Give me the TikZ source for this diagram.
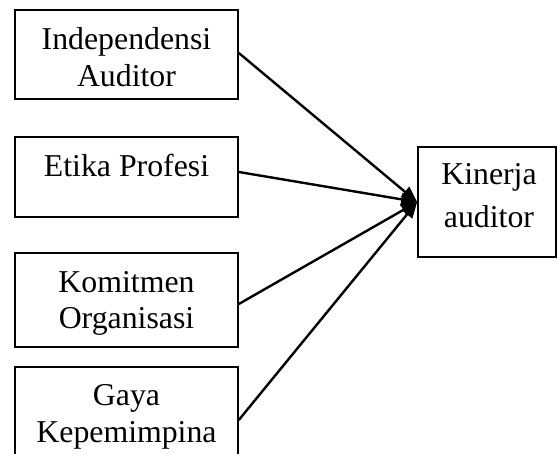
\documentclass[tikz,border=0pt]{standalone}
\usepackage{fontspec}
\setmainfont{Liberation Serif}
\usetikzlibrary{arrows.meta}
\begin{document}
\begin{tikzpicture}[x=1pt,y=-1pt,
  box/.style={draw,line width=1.6pt,inner sep=0pt},
  txt/.style={font=\fontsize{31.8}{37}\selectfont,inner sep=0pt,anchor=base},
  conn/.style={line width=2.4pt,-{Triangle[length=16pt,width=13pt]}}]
\useasboundingbox (0,0) rectangle (558,454);
\clip (0,0) rectangle (558,454);
\node[box,minimum width=223pt,minimum height=89pt] (b1) at (126.5,54.5) {};
\node[box,minimum width=223pt,minimum height=80pt] (b2) at (126.5,177) {};
\node[box,minimum width=223pt,minimum height=94pt] (b3) at (126.5,300) {};
\node[box,minimum width=223pt,minimum height=106pt] (b4) at (126.5,420) {};
\node[box,minimum width=138pt,minimum height=110pt] (kr) at (487,202) {};
\node[txt] (t1a) at (126.5,50) {Independensi};
\node[txt] (t1b) at (126.5,87) {Auditor};
\node[txt] (t2) at (126.5,177) {Etika Profesi};
\node[txt] (t3a) at (126.5,293) {Komitmen};
\node[txt] (t3b) at (126.5,329) {Organisasi};
\node[txt] (t4a) at (126.5,406) {Gaya};
\node[txt] (t4b) at (126.5,443) {Kepemimpina};
\node[txt] (t5a) at (489,185) {Kinerja};
\node[txt] (t5b) at (489,228) {auditor};
\draw[conn] ([yshift=1.5pt]b1.east) -- (kr.west);
\draw[conn] ([yshift=5pt]b2.east) -- (kr.west);
\draw[conn] ([yshift=-4pt]b3.east) -- (kr.west);
\draw[conn] (b4.east) -- (kr.west);
\end{tikzpicture}
\end{document}
